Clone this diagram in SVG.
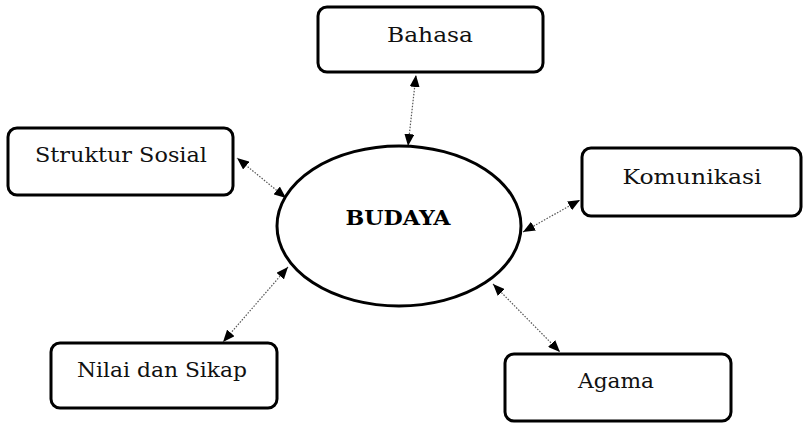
<svg xmlns="http://www.w3.org/2000/svg" width="804" height="424" viewBox="0 0 804 424">
  <style>
    .box { fill: #fff; stroke: #000; stroke-width: 3; }
    .hub { fill: #fff; stroke: #000; stroke-width: 3; }
    .label { font-family: "DejaVu Serif", "Liberation Serif", serif; font-size: 21px; fill: #111; text-anchor: middle; }
    .title { font-family: "DejaVu Serif", "Liberation Serif", serif; font-size: 21px; font-weight: bold; fill: #000; text-anchor: middle; }
    .link { stroke: #555; stroke-width: 1.2; stroke-dasharray: 1.5 1.5; fill: none; marker-start: url(#tip); marker-end: url(#tip); }
  </style>
  <defs>
    <marker id="tip" viewBox="0 0 12 10" refX="12" refY="5" markerWidth="12" markerHeight="10" markerUnits="userSpaceOnUse" orient="auto-start-reverse">
      <path d="M0,0 L12,5 L0,10 Z" fill="#000"/>
    </marker>
  </defs>

  <rect width="804" height="424" fill="#fff"/>

  <g id="connectors">
    <line class="link" x1="408" y1="146" x2="416" y2="75"/>
    <line class="link" x1="286" y1="198" x2="237" y2="158"/>
    <line class="link" x1="523" y1="232" x2="580" y2="200"/>
    <line class="link" x1="288" y1="267" x2="223" y2="342"/>
    <line class="link" x1="493" y1="284" x2="560" y2="352"/>
  </g>

  <g id="budaya">
    <ellipse class="hub" cx="399" cy="226" rx="122" ry="80"/>
    <text class="title" x="398" y="225" textLength="105" lengthAdjust="spacingAndGlyphs">BUDAYA</text>
  </g>

  <g id="bahasa">
    <rect class="box" x="318" y="7" width="225" height="65" rx="9"/>
    <text class="label" x="430" y="42" textLength="86" lengthAdjust="spacingAndGlyphs">Bahasa</text>
  </g>

  <g id="struktur-sosial">
    <rect class="box" x="8" y="128" width="225" height="67" rx="9"/>
    <text class="label" x="121" y="162" textLength="172" lengthAdjust="spacingAndGlyphs">Struktur Sosial</text>
  </g>

  <g id="komunikasi">
    <rect class="box" x="582" y="148" width="219" height="68" rx="9"/>
    <text class="label" x="692" y="184" textLength="139" lengthAdjust="spacingAndGlyphs">Komunikasi</text>
  </g>

  <g id="nilai-dan-sikap">
    <rect class="box" x="51" y="343" width="226" height="65" rx="9"/>
    <text class="label" x="162" y="377" textLength="170" lengthAdjust="spacingAndGlyphs">Nilai dan Sikap</text>
  </g>

  <g id="agama">
    <rect class="box" x="505" y="354" width="226" height="67" rx="9"/>
    <text class="label" x="616" y="388" textLength="76" lengthAdjust="spacingAndGlyphs">Agama</text>
  </g>
</svg>
